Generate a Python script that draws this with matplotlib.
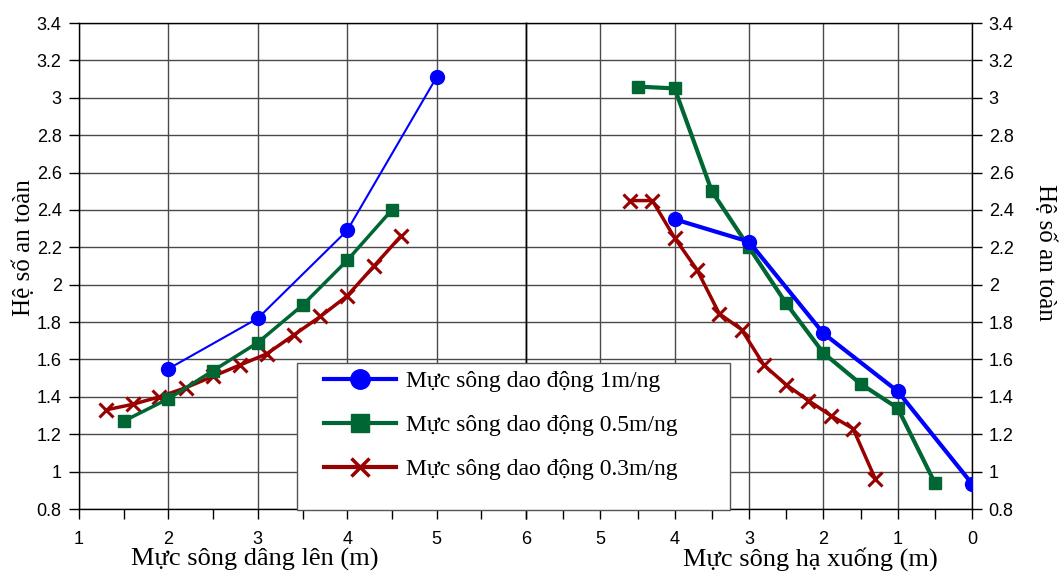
import matplotlib.pyplot as plt
from matplotlib.patches import Rectangle
from matplotlib.ticker import MultipleLocator

# --- data ---
# left half: water level rising (m)
up_x_1m = [2, 3, 4, 5]
up_y_1m = [1.55, 1.82, 2.29, 3.11]
up_x_05m = [1.5, 2, 2.5, 3, 3.5, 4, 4.5]
up_y_05m = [1.27, 1.39, 1.54, 1.69, 1.89, 2.13, 2.40]
up_x_03m = [1.3, 1.6, 1.9, 2.2, 2.5, 2.8, 3.1, 3.4, 3.7, 4.0, 4.3, 4.6]
up_y_03m = [1.33, 1.36, 1.40, 1.45, 1.51, 1.57, 1.63, 1.73, 1.83, 1.94, 2.10, 2.26]

# right half: water level falling (m)
down_x_1m = [4, 3, 2, 1, 0]
down_y_1m = [2.35, 2.23, 1.74, 1.43, 0.935]
down_x_05m = [4.5, 4, 3.5, 3, 2.5, 2, 1.5, 1, 0.5]
down_y_05m = [3.06, 3.05, 2.50, 2.20, 1.90, 1.635, 1.47, 1.34, 0.94]
down_x_03m = [4.6, 4.3, 4.0, 3.7, 3.4, 3.1, 2.8, 2.5, 2.2, 1.9, 1.6, 1.3]
down_y_03m = [2.45, 2.45, 2.25, 2.08, 1.845, 1.76, 1.57, 1.465, 1.38, 1.30, 1.23, 0.96]

labels = ['Mực sông dao động 1m/ng', 'Mực sông dao động 0.5m/ng', 'Mực sông dao động 0.3m/ng']
y_ticks = [0.8, 1, 1.2, 1.4, 1.6, 1.8, 2, 2.2, 2.4, 2.6, 2.8, 3, 3.2, 3.4]
y_tick_labels = ['0.8', '1', '1.2', '1.4', '1.6', '1.8', '2', '2.2', '2.4', '2.6', '2.8', '3', '3.2', '3.4']

blue = '#0000FF'
green = '#006633'
red = '#990000'
serif = 'Liberation Serif'
sans = 'Liberation Sans'

W, H = 1061, 572
fig = plt.figure(figsize=(W / 100, H / 100), dpi=100)
x0, xm, x1 = 79 / W, 526 / W, 972 / W
y0, y1 = 1 - 509 / H, 1 - 23 / H
ax1 = fig.add_axes([x0, y0, xm - x0, y1 - y0])
ax2 = fig.add_axes([xm, y0, x1 - xm, y1 - y0], sharey=ax1)
ax2.patch.set_alpha(0)

grid_kw = dict(color='#4a4a4a', linewidth=1.0)

for ax in (ax1, ax2):
    ax.set_ylim(0.8, 3.4)
    ax.xaxis.set_minor_locator(MultipleLocator(0.5))
    ax.grid(True, which='major', **grid_kw)
    ax.set_axisbelow(True)
    for s in ax.spines.values():
        s.set_color('black')
        s.set_linewidth(1.0)
    ax.tick_params(axis='x', which='both', direction='out', length=7, width=1,
                   labelsize=13, pad=9)
    ax.tick_params(axis='y', which='both', direction='out', length=7, width=1,
                   labelsize=13, pad=5.5)

# left axis
ax1.set_xlim(1, 6)
ax1.set_xticks([1, 2, 3, 4, 5, 6])
ax1.set_xticklabels(['1', '2', '3', '4', '5', '6'], fontfamily=sans)
ax1.set_yticks(y_ticks)
ax1.set_yticklabels(y_tick_labels, fontfamily=sans)

ax1.plot(up_x_1m, up_y_1m, color=blue, lw=1.5, marker='o', ms=10, zorder=5)
ax1.plot(up_x_05m, up_y_05m, color=green, lw=2.5, marker='s', ms=8.5, zorder=4)
ax1.plot(up_x_03m, up_y_03m, color=red, lw=2.5, marker='x', ms=10, mew=2.2, zorder=3)

# right axis (reversed)
ax2.set_xlim(6, 0)
ax2.set_xticks([5, 4, 3, 2, 1, 0])
ax2.set_xticklabels(['5', '4', '3', '2', '1', '0'], fontfamily=sans)
ax2.tick_params(axis='y', which='both', left=False, labelleft=False,
                right=True, labelright=True, pad=5)
for t in ax2.get_yticklabels():
    t.set_fontfamily(sans)

ax2.plot(down_x_1m, down_y_1m, color=blue, lw=3, marker='o', ms=10, zorder=5)
ax2.plot(down_x_05m, down_y_05m, color=green, lw=3, marker='s', ms=8.5, zorder=4)
ax2.plot(down_x_03m, down_y_03m, color=red, lw=2.5, marker='x', ms=10, mew=2.2, zorder=3)

# legend box + entries
box = Rectangle((297 / W, 1 - 510 / H), 433 / W, 147 / H, transform=fig.transFigure,
                facecolor='white', edgecolor='#555555', linewidth=1.0, zorder=3)
fig.add_artist(box)
h1, = ax1.plot([], [], color=blue, lw=3, marker='o', ms=14)
h2, = ax1.plot([], [], color=green, lw=3, marker='s', ms=13)
h3, = ax1.plot([], [], color=red, lw=3, marker='x', ms=13, mew=2.5)
leg = fig.legend([h1, h2, h3], labels, loc='upper left',
                 bbox_to_anchor=(322 / W, 1 - 368 / H),
                 frameon=False, handlelength=3.05, handletextpad=0.42,
                 labelspacing=0.95, borderpad=0.1, borderaxespad=0,
                 prop={'family': serif, 'size': 17})
leg.set_zorder(5)

# axis titles
fig.text(255 / W, 1 - 559 / H, 'Mực sông dâng lên (m)', ha='center', va='center',
         fontfamily=serif, fontsize=19)
fig.text(810 / W, 1 - 559 / H, 'Mực sông hạ xuống (m)', ha='center', va='center',
         fontfamily=serif, fontsize=19)
fig.text(24 / W, 1 - 248 / H, 'Hệ số an toàn', ha='center', va='center',
         rotation=90, fontfamily=serif, fontsize=18)
fig.text(1045 / W, 1 - 252 / H, 'Hệ số an toàn', ha='center', va='center',
         rotation=-90, fontfamily=serif, fontsize=18)

fig.savefig('out.png', dpi=100)
